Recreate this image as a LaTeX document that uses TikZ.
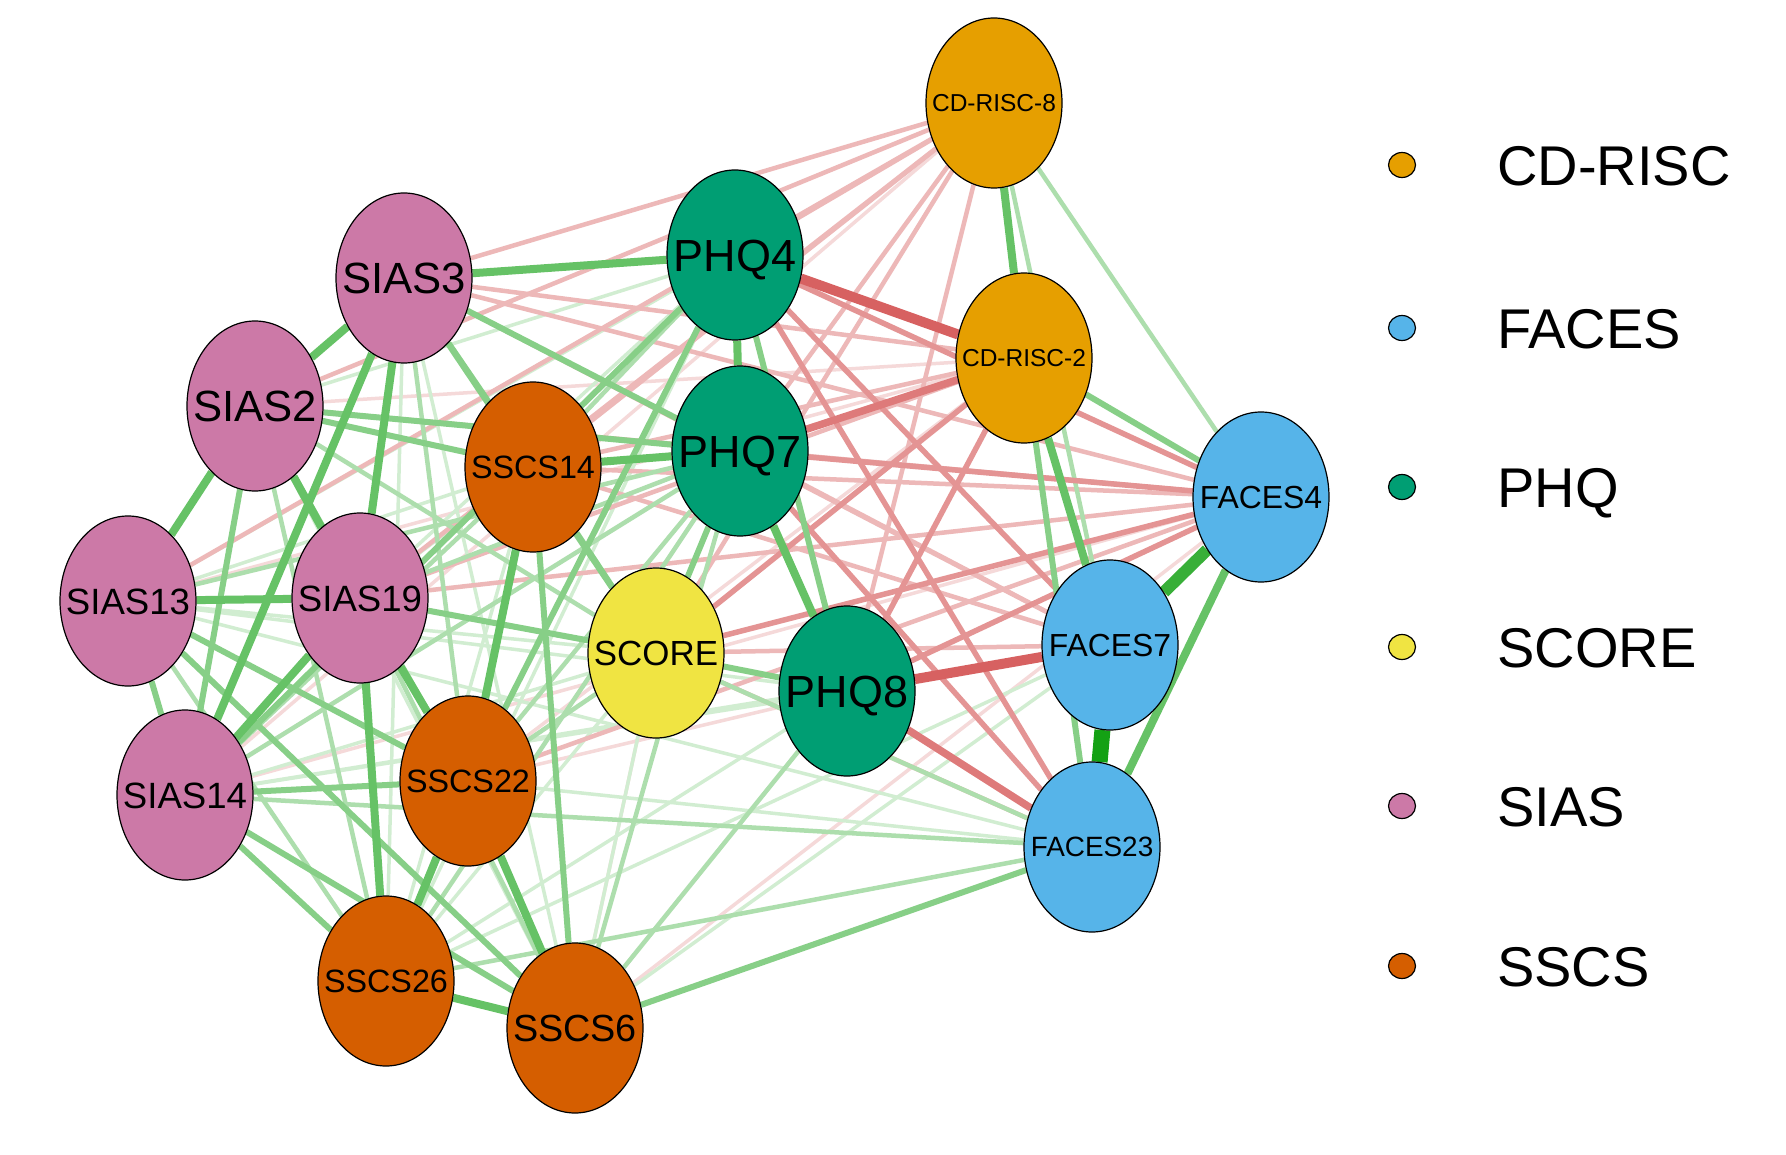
\documentclass[tikz,border=0pt]{standalone}
\usepackage{fontspec}
\setmainfont{Liberation Sans}
\usetikzlibrary{shapes.geometric}
\pgfdeclarelayer{bgl}
\pgfdeclarelayer{edges}
\pgfsetlayers{bgl,edges,main}
\definecolor{posc}{HTML}{009900}
\definecolor{negc}{HTML}{BF0000}
\definecolor{cdr}{HTML}{E69F00}
\definecolor{fac}{HTML}{56B4E9}
\definecolor{phq}{HTML}{009E73}
\definecolor{sco}{HTML}{F0E442}
\definecolor{sia}{HTML}{CC79A7}
\definecolor{ssc}{HTML}{D55E00}
\newcommand\nlab[2]{\fontsize{#1}{#1}\selectfont\raisebox{0pt}[0.716em][0pt]{#2}}
\tikzset{
  vert/.style={ellipse, draw=black, line width=1.2pt, minimum width=136pt, minimum height=170pt, inner sep=0pt},
  legdot/.style={ellipse, draw=black, line width=1.2pt, minimum width=27pt, minimum height=25pt, inner sep=0pt},
  legtext/.style={anchor=west, inner sep=0pt},
  pA/.style={line width=16pt, draw=posc!92!white},
  pB/.style={line width=12pt, draw=posc!78!white},
  pS/.style={line width=8pt, draw=posc!60!white},
  pM/.style={line width=6pt, draw=posc!47!white},
  pL/.style={line width=4.5pt, draw=posc!32!white},
  pW/.style={line width=3.5pt, draw=posc!18!white},
  nS/.style={line width=10pt, draw=negc!62!white},
  nT/.style={line width=7.5pt, draw=negc!52!white},
  nM/.style={line width=5.5pt, draw=negc!42!white},
  nL/.style={line width=4.5pt, draw=negc!28!white},
  nW/.style={line width=3.5pt, draw=negc!15!white}
}
\begin{document}
\begin{tikzpicture}[x=1pt, y=-1pt]
\useasboundingbox (0,0) rectangle (1786,1155);
\begin{pgfonlayer}{bgl}
\fill[white] (0,0) rectangle (1786,1155);
\end{pgfonlayer}
% nodes
\node[vert, fill=cdr, label={[inner sep=0pt]center:{\nlab{24.5}{CD-RISC-8}}}] (C8) at (994,103) {};
\node[vert, fill=cdr, label={[inner sep=0pt]center:{\nlab{24.5}{CD-RISC-2}}}] (C2) at (1024,358) {};
\node[vert, fill=phq, label={[inner sep=0pt]center:{\nlab{45}{PHQ4}}}] (P4) at (735,255) {};
\node[vert, fill=phq, label={[inner sep=0pt]center:{\nlab{45}{PHQ7}}}] (P7) at (740,451) {};
\node[vert, fill=phq, label={[inner sep=0pt]center:{\nlab{45}{PHQ8}}}] (P8) at (847,691) {};
\node[vert, fill=sia, label={[inner sep=0pt]center:{\nlab{43.7}{SIAS3}}}] (S3) at (404,278) {};
\node[vert, fill=sia, label={[inner sep=0pt]center:{\nlab{43.7}{SIAS2}}}] (S2) at (255,406) {};
\node[vert, fill=sia, label={[inner sep=0pt]center:{\nlab{36.6}{SIAS13}}}] (S13) at (128,601) {};
\node[vert, fill=sia, label={[inner sep=0pt]center:{\nlab{36.6}{SIAS19}}}] (S19) at (360,598) {};
\node[vert, fill=sia, label={[inner sep=0pt]center:{\nlab{36.6}{SIAS14}}}] (S14) at (185,795) {};
\node[vert, fill=ssc, label={[inner sep=0pt]center:{\nlab{32.3}{SSCS14}}}] (X14) at (533,467) {};
\node[vert, fill=ssc, label={[inner sep=0pt]center:{\nlab{32.3}{SSCS22}}}] (X22) at (468,781) {};
\node[vert, fill=ssc, label={[inner sep=0pt]center:{\nlab{32.3}{SSCS26}}}] (X26) at (386,981) {};
\node[vert, fill=ssc, label={[inner sep=0pt]center:{\nlab{37.8}{SSCS6}}}] (X6) at (575,1028) {};
\node[vert, fill=sco, label={[inner sep=0pt]center:{\nlab{34.9}{SCORE}}}] (SC) at (656,653) {};
\node[vert, fill=fac, label={[inner sep=0pt]center:{\nlab{31.9}{FACES4}}}] (F4) at (1261,497) {};
\node[vert, fill=fac, label={[inner sep=0pt]center:{\nlab{31.9}{FACES7}}}] (F7) at (1110,645) {};
\node[vert, fill=fac, label={[inner sep=0pt]center:{\nlab{27.9}{FACES23}}}] (F23) at (1092,847) {};
% edges
\begin{pgfonlayer}{edges}
\foreach \a/\b in {X6/SC, X22/P8, S13/C2, S2/C2, X22/C2, S14/C8, S14/F4, X6/F4}
  \draw[nW] (\a) -- (\b);
\foreach \a/\b in {S13/P4, S2/P4, S19/P4, S14/SC, S13/SC, X26/SC, X6/SC, X26/P8, S14/P8, S13/F23, X22/F23, X26/F7, S14/F7, X6/F7, S2/X6, S3/X26, S13/X14, S19/X14, X14/X26, S3/X6, S19/P8, S13/P8, X26/P4}
  \draw[pW] (\a) -- (\b);
\foreach \a/\b in {C8/S3, C8/P4, C8/X14, C8/P7, C8/SC, C8/P8, C8/S2, C8/S19, C8/S13, S3/C2, S3/F4, X14/F4, X14/F7, X14/C2, SC/F7, SC/F23, S19/C2, P7/F7, S3/F7, S2/F4, X22/F4, S19/F4}
  \draw[nL] (\a) -- (\b);
\foreach \a/\b in {F23/S14, F23/X26, F23/SC, S2/X22, S2/X26, S3/X22, S13/X26, S14/X14, S19/X6, X22/P7, X14/P4, S19/P7, S14/P7, C8/F4, C8/F7, X6/P7, S2/SC, X22/SC, X26/P7, S13/P7, X6/P8, F7/P8}
  \draw[pL] (\a) -- (\b);
\foreach \a/\b in {P4/F23, P4/F7, P7/F4, P8/C2, P7/F23, P4/F4, SC/F4, P8/F4, SC/C2}
  \draw[nM] (\a) -- (\b);
\foreach \a/\b in {S2/S14, S13/S14, S3/P7, S3/X14, X14/X6, P4/P8, P7/SC, P8/SC, C2/F23, C2/F4, S14/X26, S14/X22, S13/X22, S19/SC, S3/SC, X14/SC, F23/X6, S13/X6, S2/P7, X22/P4, S14/X6, S2/X14, S14/P4}
  \draw[pM] (\a) -- (\b);
\foreach \a/\b in {P7/C2, P8/F23}
  \draw[nT] (\a) -- (\b);
\foreach \a/\b in {S3/P4, S3/S2, S2/S13, S2/S19, S3/S14, S3/S19, S13/S19, S19/S14, S19/X22, X14/X22, X22/X26, X26/X6, S19/X26, P4/P7, C8/C2, C2/F7, F4/F23, P7/P8, X14/P7, X22/X6}
  \draw[pS] (\a) -- (\b);
\foreach \a/\b in {P4/C2, P8/F7}
  \draw[nS] (\a) -- (\b);
\draw[pB] (F4) -- (F7);
\draw[pA] (F7) -- (F23);
\end{pgfonlayer}
% legend
\node[legdot, fill=cdr] (L1) at (1402,165) {};
\node[legdot, fill=fac] (L2) at (1402,328) {};
\node[legdot, fill=phq] (L3) at (1402,487) {};
\node[legdot, fill=sco] (L4) at (1402,647) {};
\node[legdot, fill=sia] (L5) at (1402,806) {};
\node[legdot, fill=ssc] (L6) at (1402,966) {};
\node[legtext] (T1) at (1497,165) {\nlab{56}{CD-RISC}};
\node[legtext] (T2) at (1497,328) {\nlab{56}{FACES}};
\node[legtext] (T3) at (1497,487) {\nlab{56}{PHQ}};
\node[legtext] (T4) at (1497,647) {\nlab{56}{SCORE}};
\node[legtext] (T5) at (1497,806) {\nlab{56}{SIAS}};
\node[legtext] (T6) at (1497,966) {\nlab{56}{SSCS}};
\end{tikzpicture}
\end{document}
